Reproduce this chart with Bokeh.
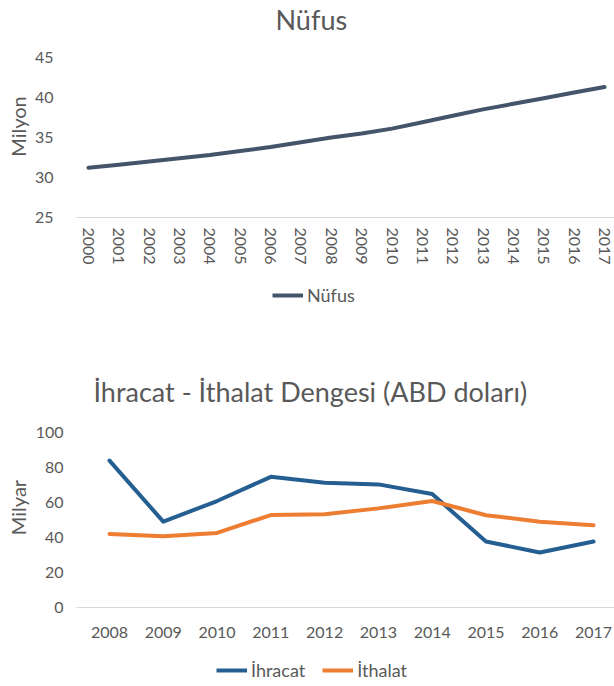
from bokeh.plotting import figure
from bokeh.models import Range1d, FixedTicker, Legend, LegendItem
from bokeh.layouts import column
from bokeh.embed import file_html
from bokeh.resources import INLINE

# ---- data ----
pop_years = [2000, 2001, 2002, 2003, 2004, 2005, 2006, 2007, 2008,
             2009, 2010, 2011, 2012, 2013, 2014, 2015, 2016, 2017]
nufus = [31.2, 31.6, 32.0, 32.4, 32.8, 33.3, 33.8, 34.4, 35.0,
         35.5, 36.1, 36.9, 37.7, 38.5, 39.2, 39.9, 40.6, 41.3]
pop_ticks = [25, 30, 35, 40, 45]

trade_years = [2008, 2009, 2010, 2011, 2012, 2013, 2014, 2015, 2016, 2017]
ihracat = [83.9, 49.0, 60.8, 74.6, 71.2, 70.3, 64.8, 37.7, 31.4, 37.7]
ithalat = [42.0, 40.7, 42.6, 52.8, 53.2, 56.6, 60.8, 52.7, 49.0, 47.0]
trade_ticks = [0, 20, 40, 60, 80, 100]

FONT = "Lato"
TXT = "#595959"
AXIS_LINE = "#d9d9d9"
C_NUFUS = "#44546A"
C_IHR = "#255E91"
C_ITH = "#ED7D31"
LW = 4
BORDER_L = 76
W = 614


def base_style(p):
    p.xgrid.grid_line_color = None
    p.ygrid.grid_line_color = None
    p.outline_line_color = None
    p.background_fill_color = "white"
    p.border_fill_color = "white"
    for ax in (p.xaxis[0], p.yaxis[0]):
        ax.major_tick_line_color = None
        ax.minor_tick_line_color = None
        ax.major_tick_out = 0
        ax.major_tick_in = 0
        ax.minor_tick_out = 0
        ax.minor_tick_in = 0
        ax.major_label_text_font = FONT
        ax.major_label_text_color = TXT
        ax.major_label_text_font_size = "16px"
        ax.axis_label_text_font = FONT
        ax.axis_label_text_color = TXT
        ax.axis_label_text_font_style = "normal"
        ax.axis_label_text_font_size = "20px"
    p.yaxis[0].axis_line_color = None
    p.xaxis[0].axis_line_color = AXIS_LINE
    p.xaxis[0].axis_line_width = 1
    p.title.text_font = FONT
    p.title.text_font_size = "27px"
    p.title.text_font_style = "normal"
    p.title.text_color = TXT
    p.title.align = "left"
    p.title.standoff = 0


def legend_fig(height, entries, loc, spacing):
    """Strip below a chart that carries only that chart's legend.
    The proxy lines use the chart's own series but lie outside this strip's ranges."""
    lf = figure(width=W, height=height, output_backend="svg", toolbar_location=None,
                x_range=Range1d(0, 1), y_range=Range1d(0, 1),
                x_axis_type=None, y_axis_type=None,
                min_border_left=BORDER_L, min_border_right=0,
                min_border_top=0, min_border_bottom=0)
    lf.outline_line_color = None
    lf.xgrid.grid_line_color = None
    lf.ygrid.grid_line_color = None
    items = []
    for label, xs, ys, color in entries:
        proxy = lf.line(xs, ys, line_color=color, line_width=LW)
        items.append(LegendItem(label=label, renderers=[proxy]))
    lf.add_layout(Legend(items=items, orientation="horizontal", location=loc,
                         margin=0, padding=0, spacing=spacing,
                         glyph_width=31, glyph_height=18, label_height=18,
                         label_standoff=4, label_text_font=FONT,
                         label_text_font_size="18px", label_text_color=TXT,
                         border_line_color=None, background_fill_alpha=0), "center")
    return lf


# ---- top chart: Nüfus ----
p1 = figure(width=W, height=279, output_backend="svg", toolbar_location=None,
            x_range=Range1d(1999.605, 2017.33), y_range=Range1d(25, 47.73),
            title="Nüfus", min_border_left=BORDER_L, min_border_right=0,
            min_border_top=0, min_border_bottom=62)
base_style(p1)
p1.title.offset = 199
p1.yaxis[0].ticker = FixedTicker(ticks=pop_ticks)
p1.xaxis[0].ticker = FixedTicker(ticks=pop_years)
p1.xaxis[0].major_label_orientation = "vertical"
p1.xaxis[0].major_label_standoff = 10
p1.yaxis[0].axis_label = "Milyon"
p1.yaxis[0].axis_label_standoff = 2
p1.yaxis[0].major_label_standoff = 23
p1.line(pop_years, nufus, line_color=C_NUFUS, line_width=LW, line_cap="round")

leg1 = legend_fig(93, [("Nüfus", pop_years, nufus, C_NUFUS)], (196, 66), 17)

# ---- bottom chart: İhracat - İthalat ----
p2 = figure(width=W, height=280, output_backend="svg", toolbar_location=None,
            x_range=Range1d(2007.386, 2017.39), y_range=Range1d(0, 114.2),
            title="İhracat - İthalat Dengesi (ABD doları)", min_border_left=BORDER_L,
            min_border_right=0, min_border_top=0, min_border_bottom=45)
base_style(p2)
p2.title.offset = 17
p2.yaxis[0].ticker = FixedTicker(ticks=trade_ticks)
p2.xaxis[0].ticker = FixedTicker(ticks=trade_years)
p2.xaxis[0].major_label_standoff = 19
p2.yaxis[0].axis_label = "Milyar"
p2.yaxis[0].axis_label_standoff = 3
p2.yaxis[0].major_label_standoff = 13
p2.line(trade_years, ihracat, line_color=C_IHR, line_width=LW, line_join="round", line_cap="round")
p2.line(trade_years, ithalat, line_color=C_ITH, line_width=LW, line_join="round", line_cap="round")

leg2 = legend_fig(34, [("İhracat", trade_years, ihracat, C_IHR),
                       ("İthalat", trade_years, ithalat, C_ITH)], (140, 5), 17)

layout = column(p1, leg1, p2, leg2, spacing=0)
open("out.html", "w").write(file_html(layout, INLINE))
